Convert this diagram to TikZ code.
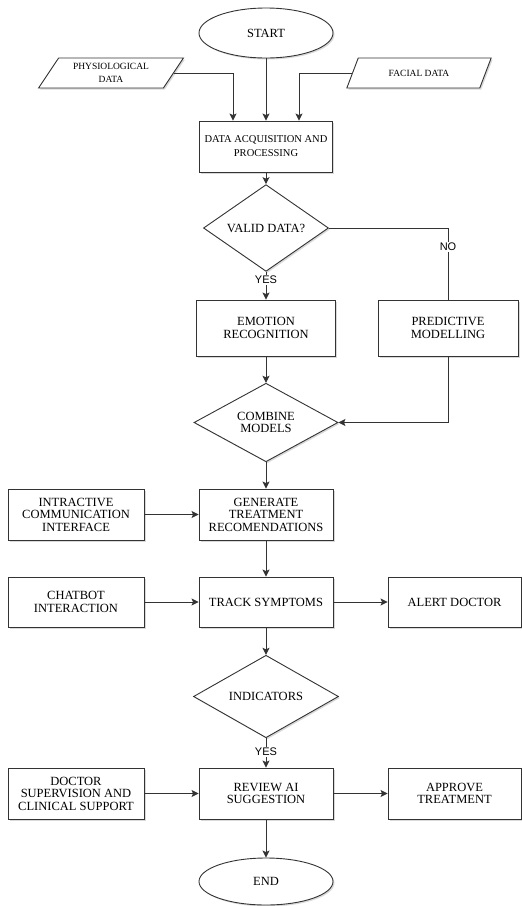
\documentclass[tikz,border=0pt]{standalone}
\usepackage{fontspec}
\setmainfont{Liberation Serif}
\newfontfamily\answerfont{Liberation Sans}
\usetikzlibrary{shapes.geometric,arrows.meta,shadows}

\tikzset{
    box/.style={draw=black!80, fill=white, line width=0.9pt, align=center,
        inner sep=1pt, font=\fontsize{12.5}{12.5}\selectfont,
        drop shadow={shadow xshift=1.5pt, shadow yshift=-1.5pt, opacity=0.3}},
    process/.style={box, rectangle, minimum width=134pt, minimum height=51pt},
    decision/.style={box, diamond, inner sep=0pt},
    terminal/.style={box, ellipse, minimum width=134pt},
    inputdata/.style={box, trapezium, trapezium left angle=55,
        trapezium right angle=125, trapezium stretches=true,
        minimum width=145pt, minimum height=30pt,
        font=\fontsize{9.5}{13}\selectfont},
    flow/.style={draw=black!80, line width=0.9pt,
        -{Stealth[length=7pt, width=7pt, inset=1.5pt]}},
    answer/.style={fill=white, inner sep=1pt,
        font=\answerfont\fontsize{11}{11}\selectfont}
}

\begin{document}
\begin{tikzpicture}[x=1pt, y=-1pt]

        \useasboundingbox (0, 0) rectangle (522, 906);

        % start and inputs
        \node[terminal, minimum height=50pt] (start) at (266, 33) {START};
        \node[inputdata] (physio) at (111, 73) {PHYSIOLOGICAL\\DATA};
        \node[inputdata] (facial) at (419, 73) {FACIAL DATA};

        \node[process, minimum width=133pt, font=\fontsize{10.5}{14}\selectfont]
            (acquire) at (266, 146.5) {DATA ACQUISITION AND\\PROCESSING};

        % validation
        \node[decision, minimum width=125pt, minimum height=68pt]
            (valid) at (266, 228) {VALID DATA?};
        \node[process, minimum width=139pt, minimum height=56pt]
            (emotion) at (266, 328) {EMOTION\\RECOGNITION};
        \node[process, minimum width=140pt, minimum height=56pt]
            (predict) at (448, 328) {PREDICTIVE\\MODELLING};
        \node[decision, minimum width=144pt, minimum height=67pt]
            (combine) at (266, 422.5) {COMBINE\\MODELS};

        % treatment
        \node[process] (generate) at (266, 514.5) {GENERATE\\TREATMENT\\RECOMENDATIONS};
        \node[process, minimum width=136pt] (interface) at (76, 514.5)
            {INTRACTIVE\\COMMUNICATION\\INTERFACE};

        \node[process, minimum height=50pt] (track) at (266, 602) {TRACK SYMPTOMS};
        \node[process, minimum width=136pt, minimum height=50pt] (chatbot) at (76, 602)
            {CHATBOT\\INTERACTION};
        \node[process, minimum width=133pt, minimum height=50pt] (alert) at (454.5, 602)
            {ALERT DOCTOR};

        \node[decision, minimum width=145pt, minimum height=67pt]
            (indicators) at (266, 696.5) {INDICATORS};

        % review
        \node[process] (review) at (266, 793.5) {REVIEW AI\\SUGGESTION};
        \node[process, minimum width=136pt] (supervise) at (76, 793.5)
            {DOCTOR\\SUPERVISION AND\\CLINICAL SUPPORT};
        \node[process, minimum width=133pt] (approve) at (454.5, 793.5)
            {APPROVE\\TREATMENT};

        \node[terminal, minimum height=47pt] (end) at (266, 881.5) {END};

        % connectors
        \draw[flow] (start) -- (acquire);
        \draw[flow] (physio.east) -| ([xshift=-33pt]acquire.north);
        \draw[flow] (facial.west) -| ([xshift=33pt]acquire.north);
        \draw[flow] (acquire) -- (valid);
        \draw[flow] (valid) -- node[answer, pos=0.3] {YES} (emotion);
        \draw[draw=black!80, line width=0.9pt]
            (valid.east) -| node[answer, pos=0.63] {NO} (predict.north);
        \draw[flow] (emotion) -- (combine);
        \draw[flow] (predict.south) |- (combine.east);
        \draw[flow] (combine) -- (generate);
        \draw[flow] (interface) -- (generate);
        \draw[flow] (generate) -- (track);
        \draw[flow] (chatbot) -- (track);
        \draw[flow] (track) -- (alert);
        \draw[flow] (track) -- (indicators);
        \draw[flow] (indicators) -- node[answer, pos=0.47] {YES} (review);
        \draw[flow] (supervise) -- (review);
        \draw[flow] (review) -- (approve);
        \draw[flow] (review) -- (end);

\end{tikzpicture}
\end{document}
